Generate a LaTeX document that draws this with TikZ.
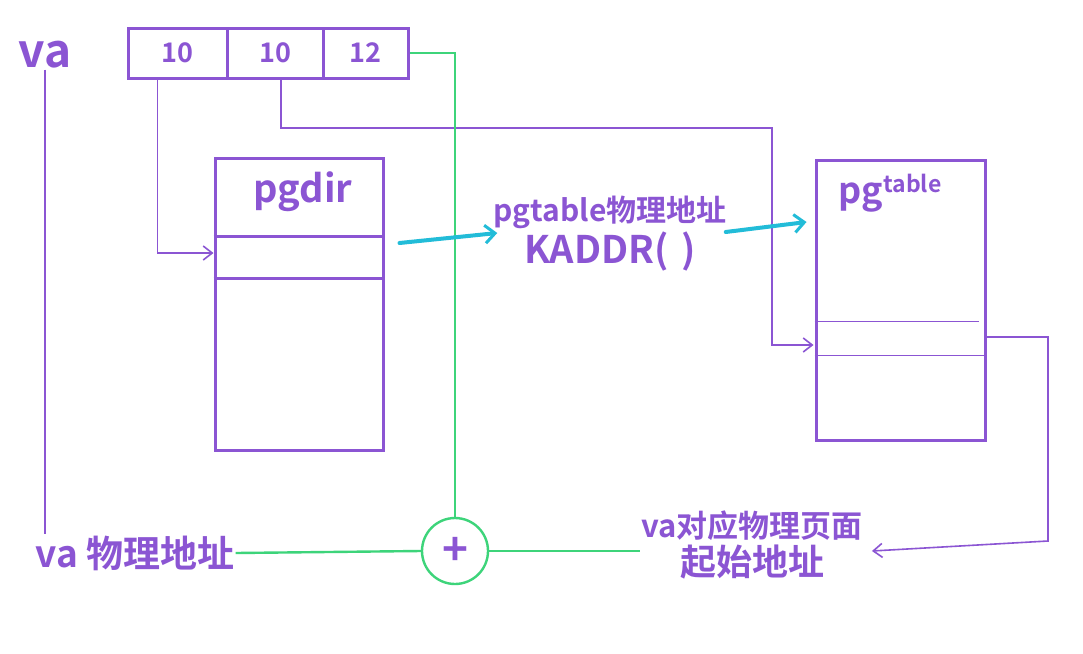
\documentclass[tikz,border=0pt]{standalone}
\usepackage{fontspec}
\setmainfont{Noto Sans CJK SC}[BoldFont={* Bold}]
\usetikzlibrary{arrows.meta,calc}
\definecolor{vio}{HTML}{8B55D3}
\definecolor{grn}{HTML}{3DD47A}
\definecolor{cyn}{HTML}{22BCD8}
\tikzset{
  field/.style={draw=vio,line width=3pt,minimum height=50pt,inner sep=0pt,text=vio,font=\fontsize{27}{28}\selectfont\bfseries},
  bigbox/.style={draw=vio,line width=3pt,inner sep=0pt},
  conn/.style={draw=vio,line width=1.6pt},
  arr/.style={-{Straight Barb[length=9pt,width=14pt,line width=1.6pt]}},
  cyarr/.style={draw=cyn,line width=4pt,line cap=round,-{Straight Barb[length=10pt,width=18pt,line width=3pt]}},
  gline/.style={draw=grn,line width=2.4pt},
  lbl/.style={text=vio,inner sep=1pt}
}
\begin{document}
\begin{tikzpicture}[x=1pt,y=-1pt]
\useasboundingbox[fill=white] (0,0) rectangle (1083,653);
% va label
\node[lbl,font=\fontsize{46}{48}\selectfont\bfseries] (va) at (45,55) {va};
% VA fields
\node[field,minimum width=99pt] (f1) at (177.5,53) {10};
\node[field,minimum width=96pt] (f2) at (275,53) {10};
\node[field,minimum width=85pt] (f3) at (365.5,53) {12};
% pgdir box
\node[bigbox,minimum width=168pt,minimum height=292pt] (pgdir) at (299,304) {};
\draw[vio,line width=3pt] ($(pgdir.north west)+(0,-80pt)$) -- ($(pgdir.north east)+(0,-80pt)$);
\draw[vio,line width=3pt] ($(pgdir.north west)+(0,-122pt)$) -- ($(pgdir.north east)+(0,-122pt)$);
\node[lbl,font=\fontsize{38}{40}\selectfont\bfseries] (pgdirl) at (303,192) {pgdir};
% pgtable box
\node[bigbox,minimum width=169pt,minimum height=280pt] (pgtable) at (900.5,300) {};
\draw[vio,line width=1.6pt] ($(pgtable.north west)+(0,-163pt)$) -- ($(pgtable.north east)+(-8pt,-163pt)$);
\draw[vio,line width=1.6pt] ($(pgtable.north west)+(0,-197pt)$) -- ($(pgtable.north east)+(0,-197pt)$);
\node[lbl,font=\fontsize{36}{38}\selectfont\bfseries] (pgtablel) at (890,193) {pg\raisebox{11pt}{\fontsize{23}{24}\selectfont\bfseries table}};
% middle label
\node[lbl,align=center] (kad) at (610,234) {{\fontsize{30}{32}\selectfont\bfseries pgtable物理地址}\\[2pt]{\fontsize{38}{40}\selectfont\bfseries KADDR(\,\,)}};
% plus
\node[draw=grn,line width=2.4pt,circle,minimum size=66pt,inner sep=0pt,text=vio,font=\fontsize{44}{44}\selectfont\bfseries] (plus) at (455,551) {+};
% bottom labels
\node[lbl,font=\fontsize{37}{40}\selectfont\bfseries] (vaphys) at (135,553) {va 物理地址};
\node[lbl,align=center,font=\fontsize{31}{38}\selectfont\bfseries] (pbase) at (752,545) {va对应物理页面\\{\fontsize{36}{38}\selectfont\bfseries 起始地址}};
% connectors
\coordinate (c2) at (772,128);
\coordinate (c3) at (1048,337);
\coordinate (c4) at (1048,541);
\draw[conn] (va.south) -- (va.south |- vaphys.north);
\draw[conn,arr] ([xshift=-20pt]f1.south) |- ([yshift=51pt]pgdir.west);
\draw[conn,arr] ([xshift=6pt]f2.south) |- (c2) |- ([yshift=-45pt,xshift=-1pt]pgtable.west);
\draw[conn,arr] ([yshift=-37pt]pgtable.east) -- (c3) -- (c4) -- ([xshift=8pt,yshift=-6pt]pbase.east);
\draw[gline] (f3.east) -| (plus.north);
\draw[gline] (vaphys.east) -- (plus.west);
\draw[gline] (plus.east) -- (pbase.west |- plus.east);
\draw[cyarr] ($(pgdir.east)+(15pt,61pt)$) -- ($(kad.west)+(5pt,1pt)$);
\draw[cyarr] ($(kad.east)+(-2pt,2pt)$) -- ($(pgtable.west)+(-8pt,78pt)$);
\end{tikzpicture}
\end{document}
